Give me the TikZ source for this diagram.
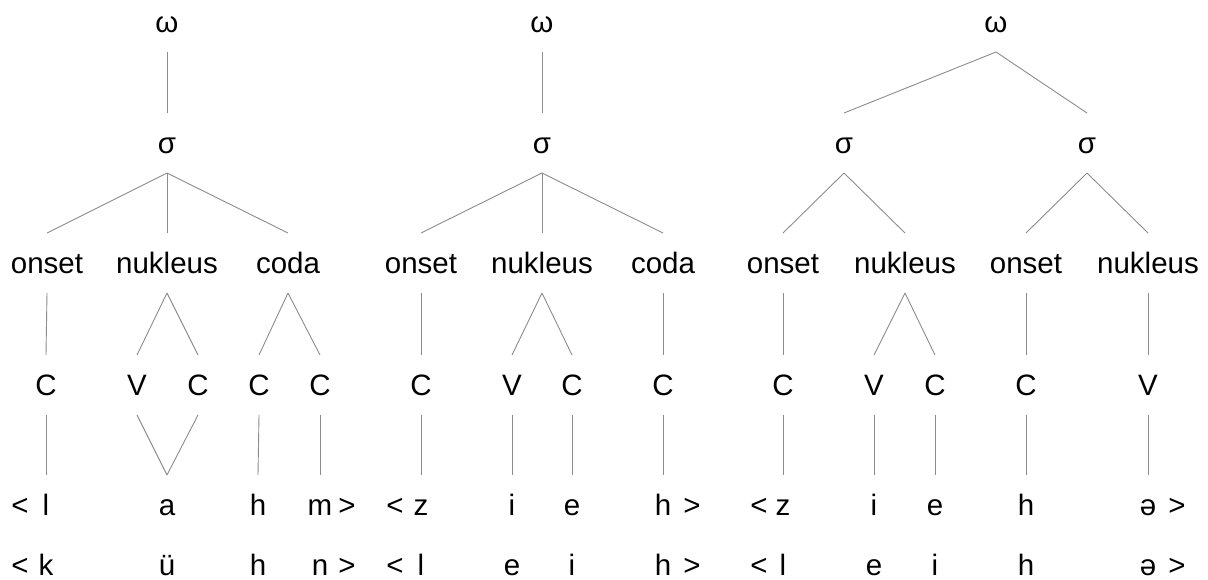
\documentclass[tikz,border=0pt]{standalone}
\usepackage{fontspec}
\setmainfont{Liberation Sans}
\usetikzlibrary{calc}
\begin{document}
\begin{tikzpicture}[x=1pt,y=-1pt,
  lbl/.style={anchor=base,inner sep=0pt,font=\fontsize{29.5}{34}\selectfont},
  branch/.style={draw={rgb,255:red,140;green,140;blue,140},line width=0.9pt}]
\useasboundingbox (0,0) rectangle (1208,579);
\newcommand\treeline[2]{\draw[branch] ($(#1.base)+(0,20)$) -- ($(#2.base)+(0,-40)$);}
% ---------- tree 1 ----------
\node[lbl] (w1) at (167,32) {ω};
\node[lbl] (s1) at (167,153) {σ};
\node[lbl] (on1) at (47,273) {onset};
\node[lbl] (nu1) at (167,273) {nukleus};
\node[lbl] (co1) at (288,273) {coda};
\node[lbl] (c11) at (46,395) {C};
\node[lbl] (v12) at (137,395) {V};
\node[lbl] (c13) at (198,395) {C};
\node[lbl] (c14) at (259,395) {C};
\node[lbl] (c15) at (320,395) {C};
\node[lbl] (lt1a) at (20,515) {<};
\node[lbl] (x1a) at (46,515) {l};
\node[lbl] (x2a) at (167,515) {a};
\node[lbl] (x3a) at (258,515) {h};
\node[lbl] (x4a) at (320,515) {m};
\node[lbl] (gt1a) at (347,515) {>};
\node[lbl] (lt1b) at (20,575) {<};
\node[lbl] (x1b) at (46,575) {k};
\node[lbl] (x2b) at (167,575) {ü};
\node[lbl] (x3b) at (258,575) {h};
\node[lbl] (x4b) at (320,575) {n};
\node[lbl] (gt1b) at (347,575) {>};
\treeline{w1}{s1}
\treeline{s1}{on1}
\treeline{s1}{nu1}
\treeline{s1}{co1}
\treeline{on1}{c11}
\treeline{nu1}{v12}
\treeline{nu1}{c13}
\treeline{co1}{c14}
\treeline{co1}{c15}
\treeline{c11}{x1a}
\treeline{v12}{x2a}
\treeline{c13}{x2a}
\treeline{c14}{x3a}
\treeline{c15}{x4a}
% ---------- tree 2 ----------
\node[lbl] (w2) at (542,32) {ω};
\node[lbl] (s2) at (542,153) {σ};
\node[lbl] (on2) at (421,273) {onset};
\node[lbl] (nu2) at (542,273) {nukleus};
\node[lbl] (co2) at (663,273) {coda};
\node[lbl] (c21) at (421,395) {C};
\node[lbl] (v22) at (512,395) {V};
\node[lbl] (c23) at (572,395) {C};
\node[lbl] (c24) at (663,395) {C};
\node[lbl] (lt2a) at (395,515) {<};
\node[lbl] (y1a) at (421,515) {z};
\node[lbl] (y2a) at (512,515) {i};
\node[lbl] (y3a) at (572,515) {e};
\node[lbl] (y4a) at (663,515) {h};
\node[lbl] (gt2a) at (692,515) {>};
\node[lbl] (lt2b) at (395,575) {<};
\node[lbl] (y1b) at (421,575) {l};
\node[lbl] (y2b) at (512,575) {e};
\node[lbl] (y3b) at (572,575) {i};
\node[lbl] (y4b) at (663,575) {h};
\node[lbl] (gt2b) at (692,575) {>};
\treeline{w2}{s2}
\treeline{s2}{on2}
\treeline{s2}{nu2}
\treeline{s2}{co2}
\treeline{on2}{c21}
\treeline{nu2}{v22}
\treeline{nu2}{c23}
\treeline{co2}{c24}
\treeline{c21}{y1a}
\treeline{v22}{y2a}
\treeline{c23}{y3a}
\treeline{c24}{y4a}
% ---------- tree 3 ----------
\node[lbl] (w3) at (996,32) {ω};
\node[lbl] (s31) at (844,153) {σ};
\node[lbl] (s32) at (1087,153) {σ};
\node[lbl] (on31) at (783,273) {onset};
\node[lbl] (nu31) at (905,273) {nukleus};
\node[lbl] (on32) at (1026,273) {onset};
\node[lbl] (nu32) at (1148,273) {nukleus};
\node[lbl] (c31) at (783,395) {C};
\node[lbl] (v32) at (874,395) {V};
\node[lbl] (c33) at (935,395) {C};
\node[lbl] (c34) at (1026,395) {C};
\node[lbl] (v35) at (1148,395) {V};
\node[lbl] (lt3a) at (759,515) {<};
\node[lbl] (z1a) at (783,515) {z};
\node[lbl] (z2a) at (874,515) {i};
\node[lbl] (z3a) at (935,515) {e};
\node[lbl] (z4a) at (1026,515) {h};
\node[lbl] (z5a) at (1148,515) {ə};
\node[lbl] (gt3a) at (1177,515) {>};
\node[lbl] (lt3b) at (759,575) {<};
\node[lbl] (z1b) at (783,575) {l};
\node[lbl] (z2b) at (874,575) {e};
\node[lbl] (z3b) at (935,575) {i};
\node[lbl] (z4b) at (1026,575) {h};
\node[lbl] (z5b) at (1148,575) {ə};
\node[lbl] (gt3b) at (1177,575) {>};
\treeline{w3}{s31}
\treeline{w3}{s32}
\treeline{s31}{on31}
\treeline{s31}{nu31}
\treeline{s32}{on32}
\treeline{s32}{nu32}
\treeline{on31}{c31}
\treeline{nu31}{v32}
\treeline{nu31}{c33}
\treeline{on32}{c34}
\treeline{nu32}{v35}
\treeline{c31}{z1a}
\treeline{v32}{z2a}
\treeline{c33}{z3a}
\treeline{c34}{z4a}
\treeline{v35}{z5a}
\end{tikzpicture}
\end{document}
